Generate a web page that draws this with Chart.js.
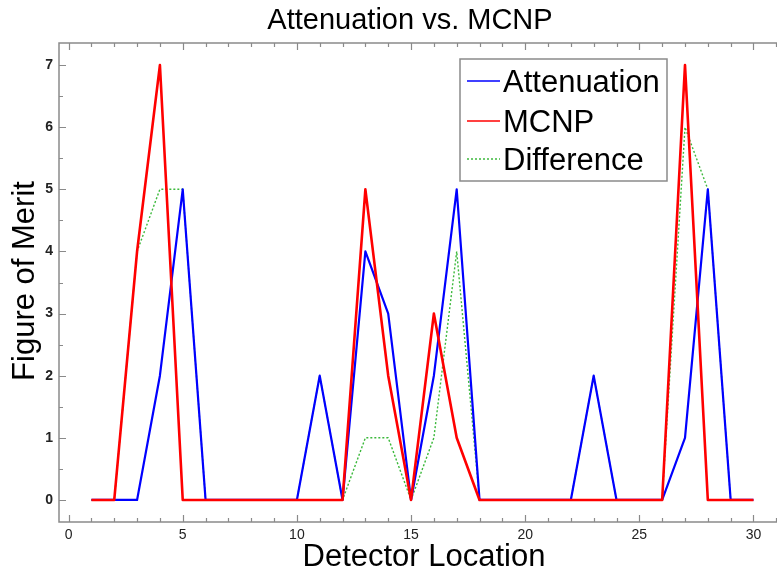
<!DOCTYPE html>
<html>
<head>
<meta charset="utf-8">
<script src="https://cdn.jsdelivr.net/npm/chart.js@4.4.1/dist/chart.umd.min.js"></script>
<style>
  html, body { margin: 0; padding: 0; background: #fff; }
  #contenedor { width: 777px; height: 575px; }
</style>
</head>
<body>
<div id="contenedor"><canvas id="grafico"></canvas></div>
<script>
"use strict";
// Datos
const ubicaciones = [1, 2, 3, 4, 5, 6, 7, 8, 9, 10, 11, 12, 13, 14, 15, 16, 17, 18, 19, 20, 21, 22, 23, 24, 25, 26, 27, 28, 29, 30];
const atenuacion = [0, 0, 0, 2, 5, 0, 0, 0, 0, 0, 2, 0, 4, 3, 0, 2, 5, 0, 0, 0, 0, 0, 2, 0, 0, 0, 1, 5, 0, 0];
const mcnp = [0, 0, 4, 7, 0, 0, 0, 0, 0, 0, 0, 0, 5, 2, 0, 3, 1, 0, 0, 0, 0, 0, 0, 0, 0, 0, 7, 0, 0, 0];
const diferencia = [0, 0, 4, 5, 5, 0, 0, 0, 0, 0, 2, 0, 1, 1, 0, 1, 4, 0, 0, 0, 0, 0, 2, 0, 0, 0, 6, 5, 0, 0];
const ticksX = [0, 5, 10, 15, 20, 25, 30];
const ticksY = [0, 1, 2, 3, 4, 5, 6, 7];

const titulo = "Attenuation vs. MCNP";
const tituloX = "Detector Location";
const tituloY = "Figure of Merit";

const colorEje = "#8a8a8a";
const fuente = "Arial, 'Liberation Sans', sans-serif";

function puntos(valores) {
    return ubicaciones.map((x, i) => ({ x, y: valores[i] }));
}

// Caja de ejes con marcas hacia adentro (estilo MATLAB)
const pluginEjes = {
    id: "ejes",
    beforeDatasetsDraw(chart) {
        const { ctx, chartArea: a, scales } = chart;
        const sx = scales.x, sy = scales.y;
        ctx.save();
        ctx.strokeStyle = colorEje;
        ctx.lineWidth = 1.5;
        ctx.beginPath();
        ctx.moveTo(a.right + 2, a.top);
        ctx.lineTo(a.left, a.top);
        ctx.lineTo(a.left, a.bottom);
        ctx.lineTo(a.right + 2, a.bottom);
        ctx.stroke();
        ctx.lineWidth = 1.2;
        ctx.beginPath();
        for (let v = 0; v <= 31; v++) {
            const px = Math.round(sx.getPixelForValue(v)) + 0.5;
            if (px > a.right) break;
            const largo = v % 5 === 0 ? 7 : 4;
            ctx.moveTo(px, a.bottom);
            ctx.lineTo(px, a.bottom - largo);
            ctx.moveTo(px, a.top);
            ctx.lineTo(px, a.top + largo);
        }
        for (let v = 0; v <= 7; v += 0.5) {
            const py = Math.round(sy.getPixelForValue(v)) + 0.5;
            const largo = Number.isInteger(v) ? 7 : 4;
            ctx.moveTo(a.left, py);
            ctx.lineTo(a.left + largo, py);
        }
        ctx.stroke();
        ctx.restore();
    },
    afterDraw(chart) {
        const { ctx } = chart;
        ctx.save();
        ctx.fillStyle = "#000";
        ctx.textAlign = "center";
        ctx.textBaseline = "alphabetic";
        ctx.font = "29px " + fuente;
        ctx.fillText(titulo, 410, 29);
        ctx.font = "31px " + fuente;
        ctx.fillText(tituloX, 424, 566);
        ctx.translate(34, 281);
        ctx.rotate(-Math.PI / 2);
        ctx.fillText(tituloY, 0, 0);
        ctx.restore();
        dibujarLeyenda(chart);
    }
};

function dibujarLeyenda(chart) {
    const { ctx } = chart;
    const caja = { x: 460, y: 59, w: 207, h: 122 };
    ctx.save();
    ctx.fillStyle = "#fff";
    ctx.fillRect(caja.x, caja.y, caja.w, caja.h);
    ctx.strokeStyle = colorEje;
    ctx.lineWidth = 1.5;
    ctx.strokeRect(caja.x, caja.y, caja.w, caja.h);
    ctx.font = "31px " + fuente;
    ctx.textAlign = "left";
    ctx.textBaseline = "middle";
    const filas = [81, 121, 159];
    chart.data.datasets.forEach((ds, i) => {
        const y = filas[i];
        ctx.strokeStyle = ds.borderColor;
        ctx.lineWidth = ds.leyendaAncho;
        ctx.setLineDash(ds.borderDash || []);
        ctx.beginPath();
        ctx.moveTo(467, y);
        ctx.lineTo(500, y);
        ctx.stroke();
        ctx.setLineDash([]);
        ctx.fillStyle = "#000";
        ctx.fillText(ds.label, 503, y + 2);
    });
    ctx.restore();
}

const ctx = document.getElementById("grafico");
const grafico = new Chart(ctx, {
    type: "line",
    data: {
        datasets: [
            {
                label: "Attenuation",
                data: puntos(atenuacion),
                borderColor: "#0000ff",
                borderWidth: 2.2,
                leyendaAncho: 1.5,
                order: 1
            },
            {
                label: "MCNP",
                data: puntos(mcnp),
                borderColor: "#ff0000",
                borderWidth: 2.6,
                leyendaAncho: 1.5,
                order: 0
            },
            {
                label: "Difference",
                data: puntos(diferencia),
                borderColor: "#3cb93c",
                borderWidth: 1.4,
                borderDash: [2, 2],
                leyendaAncho: 1.4,
                order: 2
            }
        ]
    },
    options: {
        responsive: true,
        maintainAspectRatio: false,
        animation: false,
        devicePixelRatio: 1,
        layout: { padding: { top: 43, right: 0, left: 0, bottom: 0 } },
        elements: {
            point: { radius: 0 },
            line: { tension: 0, fill: false, borderJoinStyle: "round" }
        },
        plugins: {
            legend: { display: false },
            title: { display: false },
            tooltip: { enabled: false }
        },
        scales: {
            x: {
                type: "linear",
                min: -0.42,
                max: 31.03,
                grid: { display: false, drawTicks: false },
                border: { display: false },
                afterBuildTicks: (eje) => { eje.ticks = ticksX.map(v => ({ value: v })); },
                afterFit: (eje) => { eje.height = 53; },
                ticks: {
                    padding: 5,
                    color: "#222",
                    font: { family: fuente, size: 14 },
                    maxRotation: 0,
                    autoSkip: false
                }
            },
            y: {
                type: "linear",
                min: -0.355,
                max: 7.355,
                grid: { display: false, drawTicks: false },
                border: { display: false },
                afterBuildTicks: (eje) => { eje.ticks = ticksY.map(v => ({ value: v })); },
                afterFit: (eje) => { eje.width = 59; },
                ticks: {
                    padding: 6,
                    color: "#222",
                    font: { family: fuente, size: 14, weight: "bold" }
                }
            }
        }
    },
    plugins: [pluginEjes]
});
</script>
</body>
</html>
